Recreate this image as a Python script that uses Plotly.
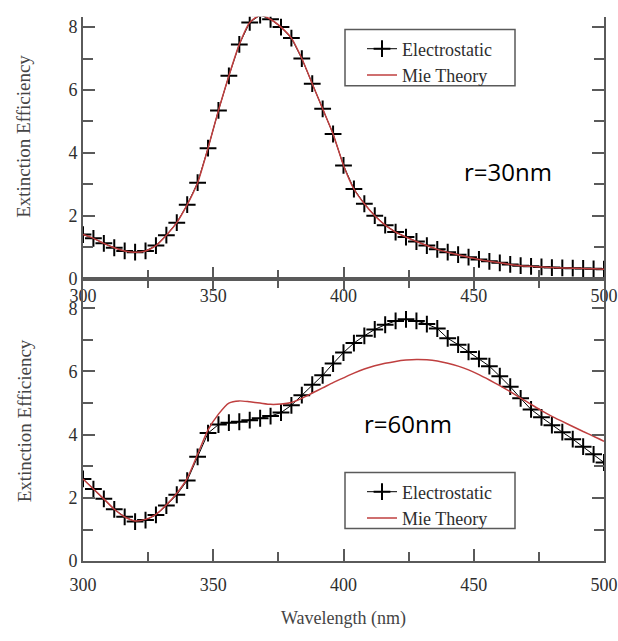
import plotly.graph_objects as go

# ---------------- data ----------------
wl = list(range(300, 501, 4))  # wavelength (nm)

es_30 = [1.40, 1.28, 1.12, 0.98, 0.88, 0.84, 0.88, 1.05, 1.38, 1.78,
         2.35, 3.05, 4.15, 5.35, 6.45, 7.45, 8.15, 8.38, 8.25, 8.00,
         7.65, 7.00, 6.20, 5.40, 4.60, 3.60, 2.85, 2.38, 2.00, 1.70,
         1.48, 1.32, 1.18, 1.05, 0.93, 0.84, 0.76, 0.68, 0.61, 0.55,
         0.50, 0.45, 0.41, 0.39, 0.37, 0.35, 0.34, 0.33, 0.32, 0.31, 0.30]

mie_30 = [1.40, 1.28, 1.12, 0.98, 0.88, 0.84, 0.88, 1.05, 1.38, 1.78,
          2.35, 3.05, 4.15, 5.35, 6.45, 7.45, 8.15, 8.38, 8.25, 8.00,
          7.65, 7.00, 6.20, 5.40, 4.60, 3.60, 2.85, 2.38, 2.00, 1.70,
          1.48, 1.32, 1.18, 1.05, 0.93, 0.84, 0.76, 0.68, 0.61, 0.55,
          0.50, 0.45, 0.41, 0.39, 0.37, 0.35, 0.34, 0.33, 0.32, 0.31, 0.30]

es_60 = [2.60, 2.28, 1.97, 1.64, 1.40, 1.25, 1.30, 1.46, 1.76, 2.10,
         2.55, 3.30, 4.05, 4.32, 4.38, 4.41, 4.46, 4.52, 4.59, 4.70,
         4.93, 5.25, 5.58, 5.88, 6.25, 6.60, 6.90, 7.13, 7.33, 7.48,
         7.60, 7.65, 7.60, 7.50, 7.36, 7.05, 6.85, 6.62, 6.40, 6.17,
         5.85, 5.52, 5.15, 4.80, 4.55, 4.30, 4.08, 3.86, 3.62, 3.38, 3.12]

mie_60 = [2.60, 2.28, 1.97, 1.64, 1.40, 1.27, 1.32, 1.48, 1.78, 2.15,
          2.62, 3.38, 4.15, 4.65, 5.00, 5.07, 5.04, 5.00, 4.96, 4.97,
          5.02, 5.15, 5.32, 5.48, 5.65, 5.80, 5.95, 6.08, 6.18, 6.26,
          6.32, 6.36, 6.38, 6.37, 6.33, 6.26, 6.17, 6.05, 5.90, 5.73,
          5.55, 5.36, 5.16, 4.96, 4.76, 4.58, 4.42, 4.26, 4.10, 3.95, 3.79]

x_ticks = [300, 350, 400, 450, 500]
y_ticks = [0, 2, 4, 6, 8]

# ---------------- styles ----------------
W, H = 618, 641
ML, MR = 83, 14
PW = W - ML - MR
MIE_COLOR = "#bf3f3f"
AX_COLOR = "#5a5a5a"
TXT = "#2e2e2e"
SERIF = "Liberation Serif"

top_dom = [1 - 283 / H, 1 - 17 / H]
bot_dom = [1 - 570 / H, 1 - 283 / H]

fig = go.Figure()

def add_pair(xa, ya, es, mie, legend):
    fig.add_trace(go.Scatter(
        x=wl, y=es, mode="lines+markers", name="Electrostatic",
        line=dict(color="black", width=1),
        marker=dict(symbol="cross-thin", size=12,
                    line=dict(color="black", width=2)),
        xaxis=xa, yaxis=ya, legend=legend))
    fig.add_trace(go.Scatter(
        x=wl, y=mie, mode="lines", name="Mie Theory",
        line=dict(color=MIE_COLOR, width=1.5, shape="spline", smoothing=0.6),
        xaxis=xa, yaxis=ya, legend=legend))

add_pair("x", "y", es_30, mie_30, "legend")
add_pair("x2", "y2", es_60, mie_60, "legend2")

def xax(mirror, standoff):
    return dict(range=[300, 500], tickvals=x_ticks, ticks="inside", ticklen=12,
                tickwidth=1.5, tickcolor=AX_COLOR, showline=True, linecolor=AX_COLOR,
                linewidth=2, showgrid=False, zeroline=False, mirror=mirror,
                ticklabelstandoff=standoff,
                tickfont=dict(family=SERIF, size=18, color=TXT),
                minor=dict(dtick=25, tick0=300, ticks="inside", ticklen=9,
                           tickwidth=1.5, tickcolor=AX_COLOR, showgrid=False))

ycommon = dict(tickvals=y_ticks, ticks="inside", ticklen=12, tickwidth=1.5,
               tickcolor=AX_COLOR, showline=True, linecolor=AX_COLOR, linewidth=2,
               mirror="ticks", showgrid=False, zeroline=False,
               tickfont=dict(family=SERIF, size=18, color=TXT),
               minor=dict(dtick=1, tick0=0, ticks="inside", ticklen=10,
                          tickwidth=1.5, tickcolor=AX_COLOR, showgrid=False))

legcommon = dict(font=dict(family=SERIF, size=18, color=TXT),
                 bgcolor="rgba(0,0,0,0)", borderwidth=0, xanchor="left",
                 yanchor="top", tracegroupgap=0, itemwidth=30)

fig.update_layout(
    width=W, height=H, margin=dict(l=ML, r=MR, t=0, b=0),
    paper_bgcolor="white", plot_bgcolor="white", showlegend=True,
    xaxis=dict(anchor="y", domain=[0, 1], **xax(False, 0)),
    yaxis=dict(anchor="x", domain=top_dom, range=[0, 8.33], **ycommon),
    xaxis2=dict(anchor="y2", domain=[0, 1], **xax("ticks", 6)),
    yaxis2=dict(anchor="x2", domain=bot_dom, range=[0, 8.94], **ycommon),
    legend=dict(x=(362 - ML) / PW, y=1 - 31 / H, **legcommon),
    legend2=dict(x=(362 - ML) / PW, y=1 - 481 / H, **legcommon),
)

# legend frames
for (y0, y1) in [(30, 87), (480, 537)]:
    fig.add_shape(type="rect", xref="paper", yref="paper",
                  x0=(345 - ML) / PW, x1=(515 - ML) / PW,
                  y0=1 - y1 / H, y1=1 - y0 / H,
                  line=dict(color=AX_COLOR, width=1.5), fillcolor="white",
                  layer="below")

ann = [
    dict(text="Extinction Efficiency", x=(24 - ML) / PW, y=1 - 139 / H,
         textangle=-90, font=dict(family=SERIF, size=19, color="#444")),
    dict(text="Extinction Efficiency", x=(24 - ML) / PW, y=1 - 428 / H,
         textangle=-90, font=dict(family=SERIF, size=19, color="#444")),
    dict(text="Wavelength (nm)", x=(343 - ML) / PW, y=1 - 628 / H,
         font=dict(family=SERIF, size=18, color="#444")),
    dict(text="r=30nm", x=(508 - ML) / PW, y=1 - 174 / H,
         font=dict(family="Open Sans", size=24, color="black")),
    dict(text="r=60nm", x=(408 - ML) / PW, y=1 - 430 / H,
         font=dict(family="Open Sans", size=24, color="black")),
]
for a in ann:
    fig.add_annotation(xref="paper", yref="paper", showarrow=False,
                       xanchor="center", yanchor="middle", **a)

fig.write_html("out.html")
